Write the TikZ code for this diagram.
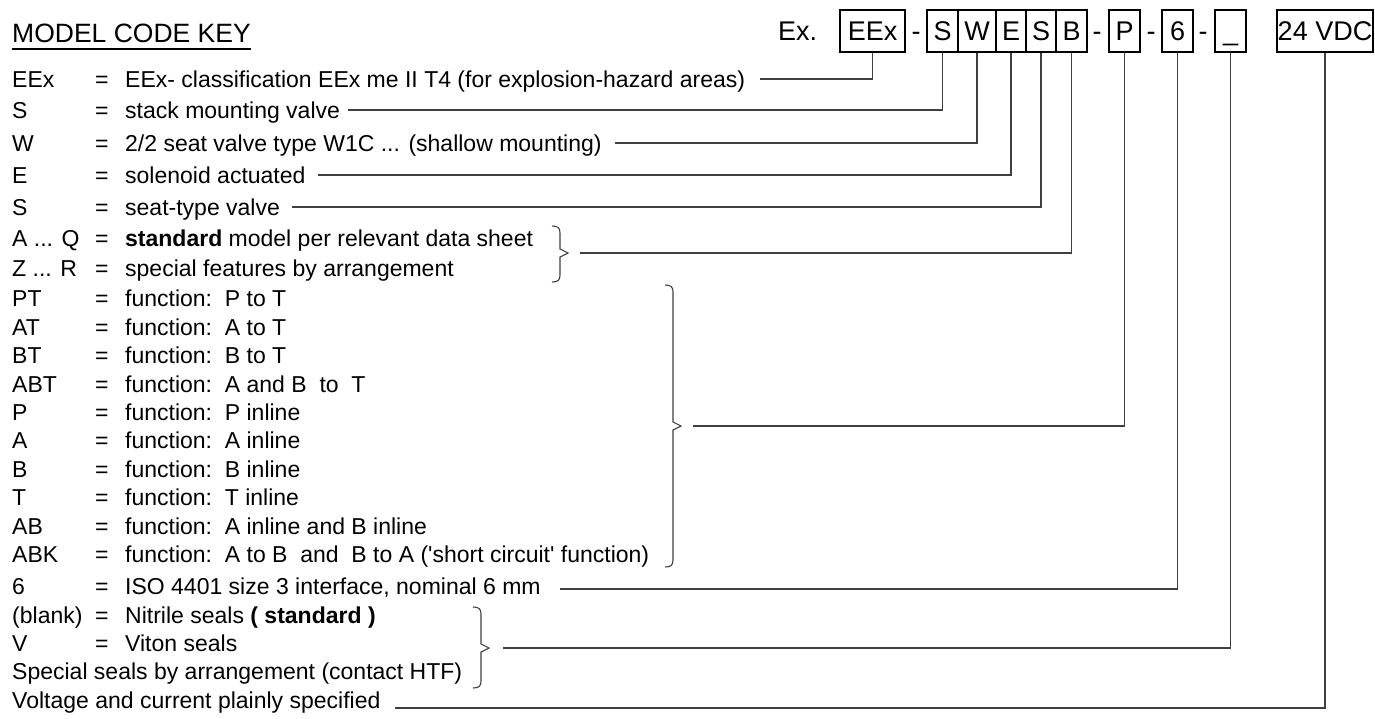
\documentclass[tikz,border=0pt]{standalone}
\usepackage{fontspec}
\setmainfont{Liberation Sans}
\newcommand\keyrow[4]{%
  \node[keytxt] (l#1) at (12,{#2+8.2}) {#3};
  \node[keytxt] (q#1) at (95,{#2+8.2}) {=};
  \node[keytxt] (d#1) at (125,{#2+8.2}) {#4};}
\newcommand\keybrace[5]{% name, x, top, bottom, mid
  \draw[bracestyle] ({#2-8},#3) .. controls ({#2-2},#3) and (#2,{#3+2}) .. (#2,{#3+7})
     -- (#2,{#5-4}) -- ({#2+8},#5) coordinate (#1) -- (#2,{#5+4}) -- (#2,{#4-7})
     .. controls (#2,{#4-2}) and ({#2-2},#4) .. ({#2-8},#4);}
\begin{document}
\begin{tikzpicture}[x=1pt,y=-1pt,
  keytxt/.style={anchor=base west, inner sep=0pt, font=\fontsize{23}{23}\selectfont},
  codetxt/.style={inner sep=0pt, text height=19pt, text depth=0pt, font=\fontsize{27}{27}\selectfont},
  codebox/.style={codetxt, draw=black, line width=1.2pt, minimum height=42pt},
  conn/.style={line width=1.2pt, draw=black!75},
  bracestyle/.style={line width=1.1pt, draw=black!75}]
\useasboundingbox[fill=white] (0,0) rectangle (1375,718);

% title
\node[anchor=base west, inner sep=0pt, font=\fontsize{26.5}{26.5}\selectfont] (title) at (12,42) {MODEL CODE KEY};
\draw[line width=1.4pt] ([yshift=-7pt]title.base west) -- ([yshift=-7pt]title.base east);

% code boxes
\node[codetxt, anchor=west] (ex) at (778,31) {Ex.};
\node[codebox, minimum width=65pt] (bEEx) at (872.5,31) {EEx};
\node[codetxt] (d1) at (916,31) {-};
\node[codebox, minimum width=31pt] (bS) at (942.5,31) {S};
\node[codebox, minimum width=38pt] (bW) at (977,31) {W};
\node[codebox, minimum width=30pt] (bE) at (1011,31) {E};
\node[codebox, minimum width=30pt] (bS2) at (1041,31) {S};
\node[codebox, minimum width=31pt] (bB) at (1071.5,31) {B};
\node[codetxt] (d2) at (1097,31) {-};
\node[codebox, minimum width=31pt] (bP) at (1124.5,31) {P};
\node[codetxt] (d3) at (1151,31) {-};
\node[codebox, minimum width=31pt] (b6) at (1177.5,31) {6};
\node[codetxt] (d4) at (1203,31) {-};
\node[codebox, minimum width=31pt] (bU) at (1230.5,31) {\_};
\node[codebox, minimum width=96pt] (bV) at (1325,31) {24 VDC};

% rows
\keyrow{EEx}{79}{EEx}{EEx- classification EEx me II T4 (for explosion-hazard areas)}
\keyrow{S}{110}{S}{stack mounting valve}
\keyrow{W}{143}{W}{2/2 seat valve type W1C ... (shallow mounting)}
\keyrow{E}{175}{E}{solenoid actuated}
\keyrow{Ss}{207}{S}{seat-type valve}
\keyrow{AQ}{238}{A ... Q}{\textbf{standard} model per relevant data sheet}
\keyrow{ZR}{268}{Z ... R}{special features by arrangement}
\keyrow{PT}{298}{PT}{function:\ \ P to T}
\keyrow{AT}{327}{AT}{function:\ \ A to T}
\keyrow{BT}{355}{BT}{function:\ \ B to T}
\keyrow{ABT}{384}{ABT}{function:\ \ A and B\ \ to\ \ T}
\keyrow{P}{412}{P}{function:\ \ P inline}
\keyrow{A}{440}{A}{function:\ \ A inline}
\keyrow{B}{469}{B}{function:\ \ B inline}
\keyrow{T}{497}{T}{function:\ \ T inline}
\keyrow{AB}{526}{AB}{function:\ \ A inline and B inline}
\keyrow{ABK}{554}{ABK}{function:\ \ A to B\ \ and\ \ B to A (\textquotesingle short circuit\textquotesingle\ function)}
\keyrow{six}{586}{6}{ISO 4401 size 3 interface, nominal 6 mm}
\keyrow{blank}{615}{(blank)}{Nitrile seals \textbf{( standard )}}
\keyrow{V}{643}{V}{Viton seals}
\node[keytxt] (special) at (12,{671+8.2}) {Special seals by arrangement (contact HTF)};
\node[keytxt] (voltage) at (12,{700+8.2}) {Voltage and current plainly specified};

% braces
\keybrace{tipAQ}{560}{226}{282}{253}
\keybrace{tipFn}{673}{285}{567}{426}
\keybrace{tipSeal}{481}{607}{688}{648}

% connector ends
\coordinate (sEEx) at (760,79);
\coordinate (sS) at (348,110);
\coordinate (sW) at (615,143);
\coordinate (sE) at (318,175);
\coordinate (sS2) at (292,207);
\coordinate (sB) at (580,253);
\coordinate (sP) at (693,426);
\coordinate (s6) at (560,589);
\coordinate (sU) at (503,648);
\coordinate (sV) at (395,708);

\draw[conn] (bEEx.south) |- (sEEx);
\draw[conn] (bS.south) |- (sS);
\draw[conn] (bW.south) |- (sW);
\draw[conn] (bE.south) |- (sE);
\draw[conn] (bS2.south) |- (sS2);
\draw[conn] (bB.south) |- (sB);
\draw[conn] (bP.south) |- (sP);
\draw[conn] (b6.south) |- (s6);
\draw[conn] (bU.south) |- (sU);
\draw[conn] (bV.south) |- (sV);
\end{tikzpicture}
\end{document}
